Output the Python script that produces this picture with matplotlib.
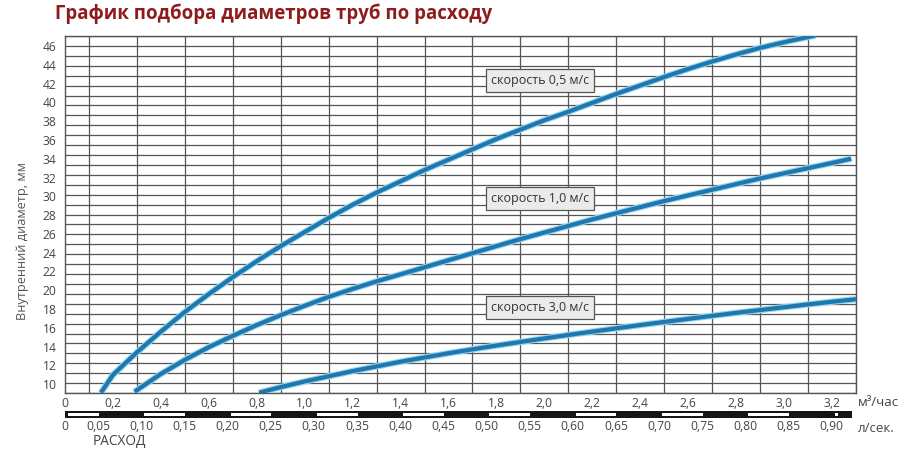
import matplotlib
matplotlib.use("Agg")
import matplotlib.pyplot as plt
import matplotlib.transforms as mtransforms
from matplotlib.patches import Rectangle
import numpy as np

plt.rcParams['font.family'] = ['Open Sans', 'DejaVu Sans']

# flow, m3/h  ->  inner diameter, mm
q_05 = [0.15, 0.2, 0.3, 0.4, 0.5, 0.6, 0.7, 0.8, 0.9, 1.0, 1.1, 1.2, 1.3, 1.4, 1.5, 1.6,
        1.7, 1.8, 1.9, 2.0, 2.1, 2.2, 2.3, 2.4, 2.5, 2.6, 2.7, 2.8, 2.9, 3.0, 3.1, 3.13]
d_05 = [9.1, 11.0, 13.4, 15.6, 17.7, 19.6, 21.4, 23.1, 24.7, 26.2, 27.7, 29.1, 30.4, 31.6, 32.8, 33.9,
        35.0, 36.1, 37.1, 38.1, 39.0, 39.95, 40.9, 41.8, 42.7, 43.55, 44.35, 45.1, 45.8, 46.4, 46.95, 47.1]

q_10 = [0.29, 0.4, 0.5, 0.6, 0.7, 0.8, 0.9, 1.0, 1.1, 1.2, 1.3, 1.4, 1.5, 1.6, 1.7, 1.8,
        1.9, 2.0, 2.1, 2.2, 2.3, 2.4, 2.5, 2.6, 2.7, 2.8, 2.9, 3.0, 3.1, 3.2, 3.28]
d_10 = [9.2, 11.1, 12.6, 13.95, 15.15, 16.3, 17.35, 18.35, 19.3, 20.15, 20.95, 21.7, 22.45, 23.2, 23.95, 24.7,
        25.45, 26.15, 26.85, 27.55, 28.2, 28.85, 29.5, 30.1, 30.7, 31.3, 31.9, 32.45, 33.0, 33.55, 34.0]

q_30 = [0.81, 0.9, 1.0, 1.1, 1.2, 1.3, 1.4, 1.5, 1.6, 1.7, 1.8, 1.9, 2.0, 2.1, 2.2,
        2.3, 2.4, 2.5, 2.6, 2.7, 2.8, 2.9, 3.0, 3.1, 3.2, 3.3]
d_30 = [9.1, 9.7, 10.3, 10.85, 11.4, 11.9, 12.4, 12.85, 13.3, 13.72, 14.12, 14.5, 14.88, 15.25, 15.6,
        15.95, 16.3, 16.63, 16.96, 17.28, 17.6, 17.9, 18.2, 18.5, 18.78, 19.05]

curve_labels = ["скорость 0,5 м/с", "скорость 1,0 м/с", "скорость 3,0 м/с"]
label_pos = [(1.98, 42.3), (1.98, 29.8), (1.98, 18.2)]

m3h_ticks = [0, 0.2, 0.4, 0.6, 0.8, 1.0, 1.2, 1.4, 1.6, 1.8, 2.0, 2.2, 2.4, 2.6, 2.8, 3.0, 3.2]
ls_ticks = [0, 0.05, 0.10, 0.15, 0.20, 0.25, 0.30, 0.35, 0.40, 0.45,
            0.50, 0.55, 0.60, 0.65, 0.70, 0.75, 0.80, 0.85, 0.90]
d_ticks = list(range(10, 47, 2))

M3H_PER_LS = 3.6
x_min, x_max = 0, 3.3
y_min, y_max = 9.07, 47.06

grid_c = '#555555'
txt_c = '#444444'
line_c = '#2077ae'
halo_c = '#8fd6f2'

W, H = 908, 454
fig = plt.figure(figsize=(W / 100, H / 100), dpi=100)
ax = fig.add_axes([65 / W, 1 - 393 / H, (856 - 65) / W, (393 - 36) / H])

for q, d in [(q_05, d_05), (q_10, d_10), (q_30, d_30)]:
    ax.plot(q, d, color=halo_c, lw=4.6, solid_capstyle='butt', zorder=3)
    ax.plot(q, d, color=line_c, lw=3.0, solid_capstyle='butt', zorder=4)

for text, (x, y) in zip(curve_labels, label_pos):
    ax.text(x, y, text, ha='center', va='center', fontsize=9, color='#333333', zorder=5,
            bbox=dict(boxstyle='square,pad=0.4', fc='#ebebeb', ec='#555555', lw=0.9))

ax.set_xlim(x_min, x_max)
ax.set_ylim(y_min, y_max)

ax.set_xticks(m3h_ticks)
ax.set_xticklabels([f"{v:.1f}".replace('.', ',') if v else "0" for v in m3h_ticks])
ax.set_xticks(np.arange(x_min, x_max + 0.001, 0.1), minor=True)
ax.set_yticks(d_ticks)
ax.set_yticks(np.linspace(y_min, y_max, 37), minor=True)
ax.tick_params(which='both', length=0, labelsize=8.7, labelcolor=txt_c)
ax.tick_params(axis='x', pad=3)
ax.tick_params(axis='y', pad=6)

ax.grid(False)
ax.grid(which='minor', color=grid_c, lw=0.9)
for s in ax.spines.values():
    s.set_color(grid_c)
    s.set_linewidth(1.0)

ax.set_ylabel("Внутренний диаметр, мм", fontsize=9.2, color='#555555')
ax.yaxis.set_label_coords(-0.046, 0.426)

# flow scale bar in l/s (the original scale sits a few pixels to the left)
trans = mtransforms.blended_transform_factory(ax.transData, ax.transAxes)
seg_trans = mtransforms.offset_copy(trans, fig=fig, x=-7, y=0, units='dots')
lab_trans = mtransforms.offset_copy(trans, fig=fig, x=-10, y=0, units='dots')
px = 1 / 357
bar_top = -18 * px
bar_h = 7 * px
bar_end = x_max - 0.015
ax.add_patch(Rectangle((0, bar_top - bar_h), bar_end, bar_h, transform=trans,
                       fc='#151515', ec='none', clip_on=False))
for v in np.arange(0, 0.95, 0.1):
    x0 = max(v * M3H_PER_LS, 0.04)
    x1 = min(v * M3H_PER_LS + 0.05 * M3H_PER_LS - 0.01, bar_end - 0.03)
    if x1 > x0:
        ax.add_patch(Rectangle((x0, bar_top - bar_h + 2 * px), x1 - x0, 3 * px,
                               transform=seg_trans, fc='white', ec='none', clip_on=False))

for v in ls_ticks:
    ax.text(v * M3H_PER_LS, -33 * px, f"{v:.2f}".replace('.', ',') if v else "0",
            transform=lab_trans if v else trans, ha='center', va='center',
            fontsize=8.7, color=txt_c)

fig.text(858 / W, 1 - 402 / H, "м³/час", ha='left', va='center', fontsize=9.5, color=txt_c)
fig.text(858 / W, 1 - 428 / H, "л/сек.", ha='left', va='center', fontsize=9.5, color=txt_c)
fig.text(93 / W, 1 - 442 / H, "РАСХОД", ha='left', va='center', fontsize=9.8, color=txt_c)

fig.text(55 / W, 1 - 14 / H, "График подбора диаметров труб по расходу", ha='left', va='center',
         fontsize=13.4, fontweight='bold', color='#8e1c1c')

fig.savefig("out.png", dpi=100, facecolor='white')
